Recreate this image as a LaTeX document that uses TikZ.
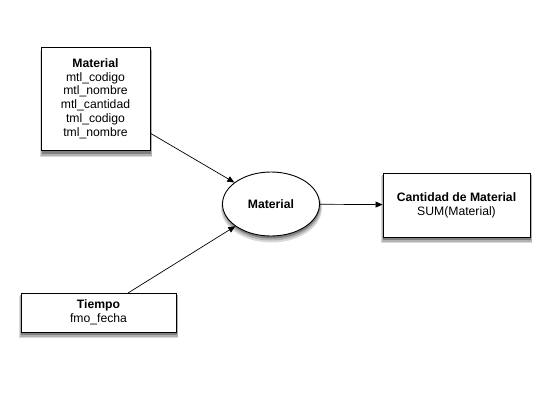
\documentclass[tikz,border=0pt]{standalone}
\usepackage{fontspec}
\setmainfont{Liberation Sans}
\usetikzlibrary{arrows.meta,shapes.geometric}
\begin{document}
\begin{tikzpicture}[x=1pt,y=-1pt,
  box/.style={draw=black, line width=0.9pt, fill=white, align=center,
    font=\fontsize{12.2}{13.8}\selectfont, inner sep=0pt},
  shdout/.style={fill=black!15},
  shdmid/.style={fill=black!30},
  shdin/.style={fill=black!50},
  conn/.style={draw=black, line width=0.7pt, -{Triangle[length=7pt,width=6pt]}}]
\useasboundingbox (0,0) rectangle (553,405);
% shadows
\fill[shdout] (40,51) rectangle (152,157);
\fill[shdmid] (41,50) rectangle (151.5,155.5);
\fill[shdin] (42,49) rectangle (151,153.5);
\fill[shdout] (271.5,208) ellipse [x radius=50.5, y radius=34.5];
\fill[shdmid] (271.5,207) ellipse [x radius=49.5, y radius=33.5];
\fill[shdin] (271.5,206) ellipse [x radius=48.5, y radius=32.5];
\fill[shdout] (381,176) rectangle (532,243);
\fill[shdmid] (382,175) rectangle (531.5,241.5);
\fill[shdin] (383,174) rectangle (531,239.5);
\fill[shdout] (19,296) rectangle (178,338);
\fill[shdmid] (20,295) rectangle (177.5,336.5);
\fill[shdin] (21,294) rectangle (177,334.5);
% nodes
\node[box, minimum width=109pt, minimum height=103pt] (mat) at (95.5,98.5)
  {\textbf{Material}\\mtl\_codigo\\mtl\_nombre\\mtl\_cantidad\\tml\_codigo\\tml\_nombre};
\node[box, ellipse, minimum width=97pt, minimum height=64pt] (ell) at (271,204) {\textbf{Material}};
\node[box, minimum width=147pt, minimum height=64pt] (cant) at (456.5,205)
  {\textbf{Cantidad de Material}\\SUM(Material)};
\node[box, minimum width=155pt, minimum height=39pt] (tie) at (98.5,312.5)
  {\textbf{Tiempo}\\fmo\_fecha};
\coordinate (a1) at (150,133);
\coordinate (a2) at (128,293);
\draw[conn] (a1) -- (ell);
\draw[conn] (a2) -- (ell);
\draw[conn] (ell) -- (cant);
\end{tikzpicture}
\end{document}
